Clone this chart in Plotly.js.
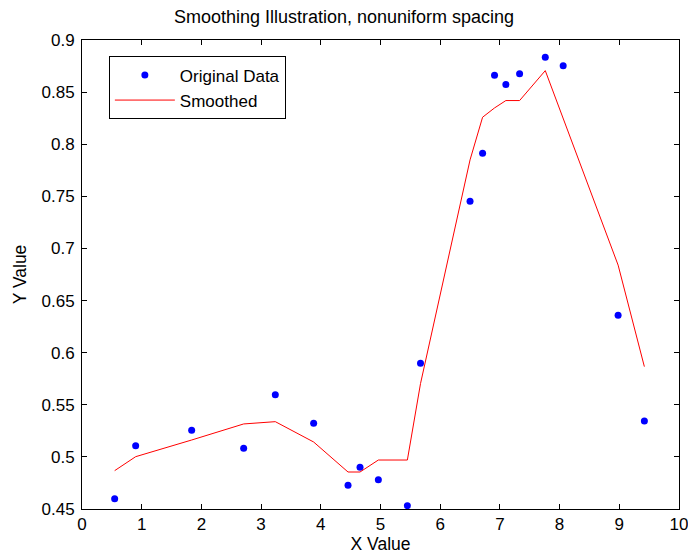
<!DOCTYPE html>
<html>
<head>
<meta charset="utf-8">
<script src="https://cdn.plot.ly/plotly-3.0.1.min.js"></script>
<style>html,body{margin:0;padding:0;background:#fff;}#chart{width:688px;height:554px;}</style>
</head>
<body>
<div id="chart"></div>
<script>
const xValues = [0.547, 0.899, 1.837, 2.708, 3.238, 3.880, 4.456, 4.657, 4.964, 5.450, 5.670, 6.500, 6.710, 6.910, 7.100, 7.330, 7.760, 8.060, 8.980, 9.420];
const originalData = [0.4599, 0.5108, 0.5255, 0.5083, 0.5597, 0.5322, 0.4727, 0.4900, 0.4781, 0.4532, 0.5898, 0.7453, 0.7914, 0.8662, 0.8572, 0.8675, 0.8835, 0.8754, 0.6359, 0.5345];
const smoothedData = [0.4868, 0.5002, 0.5162, 0.5316, 0.5338, 0.5143, 0.4855, 0.4855, 0.4970, 0.4970, 0.5703, 0.7850, 0.8259, 0.8348, 0.8419, 0.8419, 0.8706, 0.8245, 0.6840, 0.5866];
const xTicks = [0,1,2,3,4,5,6,7,8,9,10];
const yTicks = [0.45,0.5,0.55,0.6,0.65,0.7,0.75,0.8,0.85,0.9];

const fam = 'Liberation Sans, Arial, sans-serif';
const tickFont = {family: fam, size: 17, color: '#000'};
const labelFont = {family: fam, size: 17.5, color: '#000'};
const titleFont = {family: fam, size: 18, color: '#000'};

const traces = [
  {x: xValues, y: originalData, type: 'scatter', mode: 'markers', name: 'Original Data',
   marker: {color: '#0000ff', size: 7}},
  {x: xValues, y: smoothedData, type: 'scatter', mode: 'lines', name: 'Smoothed',
   line: {color: '#ff0000', width: 1}}
];

const axisCommon = {
  showgrid: false, zeroline: false, showline: true, mirror: 'ticks',
  linecolor: '#000', linewidth: 1, ticks: 'inside', ticklen: 5, tickcolor: '#000',
  tickfont: tickFont, ticklabeloverflow: 'allow'
};

const layout = {
  width: 688, height: 554,
  margin: {l: 82, r: 9, t: 40, b: 45},
  paper_bgcolor: '#fff', plot_bgcolor: '#fff',
  font: labelFont,
  title: {text: 'Smoothing Illustration, nonuniform spacing', font: titleFont, x: 0.5, xanchor: 'center', y: 0.969, yanchor: 'middle'},
  xaxis: Object.assign({}, axisCommon, {
    range: [0, 10], tickvals: xTicks, ticktext: xTicks.map(String),
    ticklabelstandoff: 0,
    title: {text: 'X Value', font: labelFont, standoff: 6}
  }),
  yaxis: Object.assign({}, axisCommon, {
    range: [0.45, 0.9], tickvals: yTicks, ticktext: yTicks.map(v => String(v)),
    ticklabelstandoff: 3,
    title: {text: 'Y Value', font: labelFont, standoff: 10}
  }),
  showlegend: true,
  legend: {
    x: 0.045, y: 0.965, xanchor: 'left', yanchor: 'top',
    bgcolor: '#fff', bordercolor: '#000', borderwidth: 1,
    font: {family: fam, size: 17, color: '#000'}, tracegroupgap: 0, itemwidth: 60
  }
};

Plotly.newPlot('chart', traces, layout, {staticPlot: true, displayModeBar: false});
</script>
</body>
</html>
